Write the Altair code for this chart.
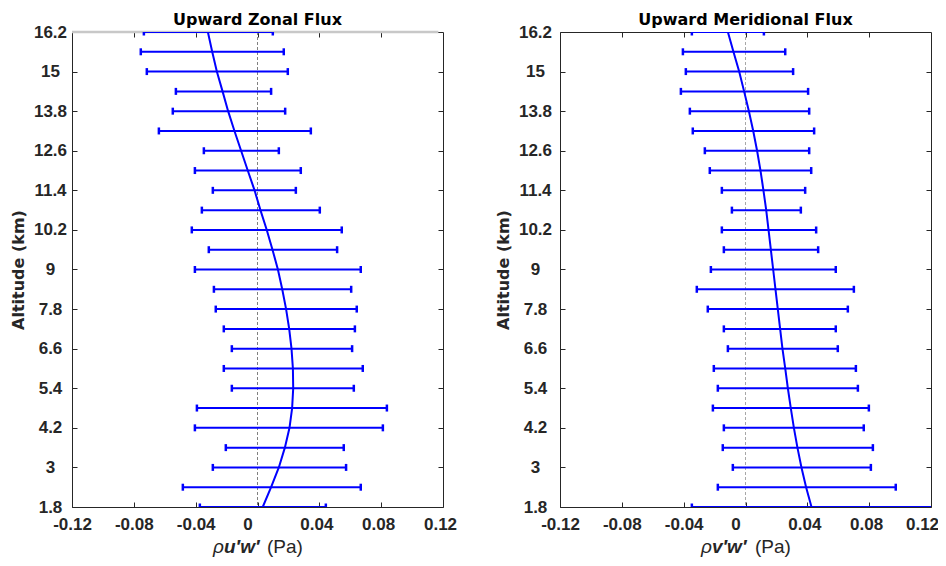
import altair as alt
import pandas as pd

# ---------------- data ----------------
altitude = [1.8, 2.4, 3.0, 3.6, 4.2, 4.8, 5.4, 6.0, 6.6, 7.2, 7.8, 8.4, 9.0,
            9.6, 10.2, 10.8, 11.4, 12.0, 12.6, 13.2, 13.8, 14.4, 15.0, 15.6, 16.2]

zonal_low = [-0.0373, -0.0483, -0.0289, -0.0205, -0.0405, -0.0392, -0.0166, -0.0218,
             -0.0166, -0.0218, -0.0270, -0.0282, -0.0405, -0.0315, -0.0425, -0.0360,
             -0.0289, -0.0405, -0.0347, -0.0638, -0.0548, -0.0528, -0.0716, -0.0755, -0.0735]
zonal_high = [0.0442, 0.0668, 0.0573, 0.0558, 0.0811, 0.0837, 0.0623, 0.0681,
              0.0612, 0.0630, 0.0642, 0.0606, 0.0668, 0.0515, 0.0545, 0.0403,
              0.0248, 0.0280, 0.0138, 0.0345, 0.0179, 0.0088, 0.0196, 0.0170, 0.0099]
zonal_fit = [0.0034, 0.0088, 0.0138, 0.0177, 0.0207, 0.0224, 0.0231, 0.0229,
             0.0220, 0.0205, 0.0185, 0.0160, 0.0132, 0.0097, 0.0060, 0.0019,
             -0.0019, -0.0063, -0.0106, -0.0149, -0.0190, -0.0226, -0.0263, -0.0293, -0.0321]

merid_low = [-0.0347, -0.0179, -0.0082, -0.0147, -0.0140, -0.0211, -0.0179, -0.0205,
             -0.0114, -0.0140, -0.0244, -0.0315, -0.0224, -0.0140, -0.0153, -0.0088,
             -0.0153, -0.0231, -0.0263, -0.0341, -0.0360, -0.0418, -0.0386, -0.0405, -0.0347]
merid_high = [0.1280, 0.0972, 0.0811, 0.0824, 0.0765, 0.0798, 0.0727, 0.0714,
              0.0597, 0.0584, 0.0662, 0.0701, 0.0584, 0.0470, 0.0457, 0.0358,
              0.0386, 0.0425, 0.0412, 0.0444, 0.0412, 0.0405, 0.0308, 0.0257, 0.0119]
merid_fit = [0.0427, 0.0392, 0.0362, 0.0336, 0.0313, 0.0293, 0.0274, 0.0257,
             0.0239, 0.0224, 0.0209, 0.0194, 0.0179, 0.0164, 0.0149, 0.0134,
             0.0116, 0.0097, 0.0075, 0.0050, 0.0022, -0.0009, -0.0041, -0.0078, -0.0114]

x_ticks = [-0.12, -0.08, -0.04, 0, 0.04, 0.08, 0.12]
y_ticks = [1.8, 3, 4.2, 5.4, 6.6, 7.8, 9, 10.2, 11.4, 12.6, 13.8, 15, 16.2]
zero_line = [0]
top_edge_x = [-0.12, 0.117]

titles = ["Upward Zonal Flux", "Upward Meridional Flux"]
xlabel_zonal = ["\u03c1", "u\u2032w\u2032", "(Pa)"]
xlabel_merid = ["\u03c1", "v\u2032w\u2032", "(Pa)"]
y_title = "Altitude (km)"

BLUE = "#0000ff"
AX = "#262626"
W, H = 371, 475


def panel(low, high, fit, title, xlab, dash_color, ylab_pad, last_shift, top_edge=None):
    df = pd.DataFrame({"alt": altitude, "low": low, "high": high, "fit": fit})
    xs = alt.Scale(domain=[x_ticks[0], x_ticks[-1]], nice=False, zero=False)
    ys = alt.Scale(domain=[y_ticks[0], y_ticks[-1]], nice=False, zero=False)
    common = dict(offset=-5, tickSize=5, tickColor=AX, tickWidth=1, domain=False, grid=False)
    lab = dict(labelFont="Liberation Sans", labelFontSize=17, labelFontWeight="bold",
               labelColor=AX, labelFlush=False, labelOverlap=False)
    x_label_offset = {
        "condition": [
            {"test": "datum.value == 0", "value": -10},
            {"test": "datum.value > 0.11", "value": last_shift},
            {"test": "datum.value > 0", "value": -3},
        ],
        "value": 0,
    }
    x_bottom = alt.Axis(orient="bottom", values=x_ticks,
                        labelExpr="datum.value == 0 ? '0' : (datum.value < 0 ? '-' : '') + format(abs(datum.value), '.2f')",
                        labelPadding=9, labelOffset=x_label_offset, title=None, **lab, **common)
    y_left = alt.Axis(orient="left", values=y_ticks,
                      labelExpr="format(datum.value, '.1~f')",
                      labelAlign="center", labelPadding=ylab_pad,
                      title=y_title, titleFont="DejaVu Sans", titleFontSize=16,
                      titleFontWeight="bold", titleColor=AX, titlePadding=7,
                      **lab, **common)
    x_top = alt.Axis(orient="top", values=x_ticks[1:-1], labels=False, title=None, **common)
    y_right = alt.Axis(orient="right", values=y_ticks[1:-1], labels=False, title=None, **common)

    base = alt.Chart(df)
    layers = []
    if top_edge is not None:
        te = pd.DataFrame({"x": [top_edge[0]], "x2": [top_edge[1]], "y": [y_ticks[-1]]})
        layers.append(alt.Chart(te).mark_rule(color="#c8c8c8", strokeWidth=2.5).encode(
            x=alt.X("x:Q", scale=xs, axis=None), x2="x2:Q",
            y=alt.Y("y:Q", scale=ys, axis=None)))
    layers.append(alt.Chart(pd.DataFrame({"z": zero_line})).mark_rule(
        color=dash_color, strokeDash=[3, 2], strokeWidth=1).encode(
        x=alt.X("z:Q", scale=xs, axis=None)))
    layers.append(base.mark_rule(color=BLUE, strokeWidth=2, clip=True).encode(
        x=alt.X("low:Q", scale=xs, axis=x_bottom), x2="high:Q",
        y=alt.Y("alt:Q", scale=ys, axis=y_left)))
    for f in ["low", "high"]:
        layers.append(base.mark_tick(color=BLUE, orient="vertical", size=7,
                                     thickness=2.5, clip=True, opacity=1).encode(
            x=alt.X(f + ":Q", scale=xs, axis=None),
            y=alt.Y("alt:Q", scale=ys, axis=None)))
    layers.append(base.mark_line(color=BLUE, strokeWidth=2, clip=True).encode(
        x=alt.X("fit:Q", scale=xs, axis=None),
        y=alt.Y("alt:Q", scale=ys, axis=None), order="alt:Q"))
    layers.append(base.mark_point(opacity=0).encode(
        x=alt.X("fit:Q", scale=xs, axis=x_top),
        y=alt.Y("alt:Q", scale=ys, axis=y_right)))
    # panel title
    layers.append(alt.Chart(pd.DataFrame({"t": [title]})).mark_text(
        align="center", baseline="alphabetic", font="DejaVu Sans", fontSize=16,
        fontWeight="bold", color="black").encode(
        x=alt.value(W / 2), y=alt.value(-7), text="t:N"))
    # x-axis title pieces
    specs = [(xlab[0], "right", 152, "normal", "italic"),
             (xlab[1], "left", 152, "bold", "italic"),
             (xlab[2], "left", 195, "normal", "normal")]
    for txt, al, xv, fw, fs in specs:
        layers.append(alt.Chart(pd.DataFrame({"t": [txt]})).mark_text(
            align=al, baseline="alphabetic", font="Liberation Sans", fontSize=19,
            fontWeight=fw, fontStyle=fs, color=AX).encode(
            x=alt.value(xv), y=alt.value(H + 46), text="t:N"))

    return alt.layer(*layers).resolve_axis(x="independent", y="independent").properties(
        width=W, height=H)


left = panel(zonal_low, zonal_high, zonal_fit, titles[0], xlabel_zonal, "#808080", 22, -3, top_edge_x)
right = panel(merid_low, merid_high, merid_fit, titles[1], xlabel_merid, "#a8a8a8", 25, -9)

chart = alt.hconcat(left, right, spacing=117, bounds="flush").properties(
    autosize=alt.AutoSizeParams(type="none"),
    padding={"left": 64, "top": 24, "right": 866, "bottom": 526}
).configure_view(stroke=AX, strokeWidth=1)

chart.save("out.html", embed_options={"renderer": "svg", "actions": False})
